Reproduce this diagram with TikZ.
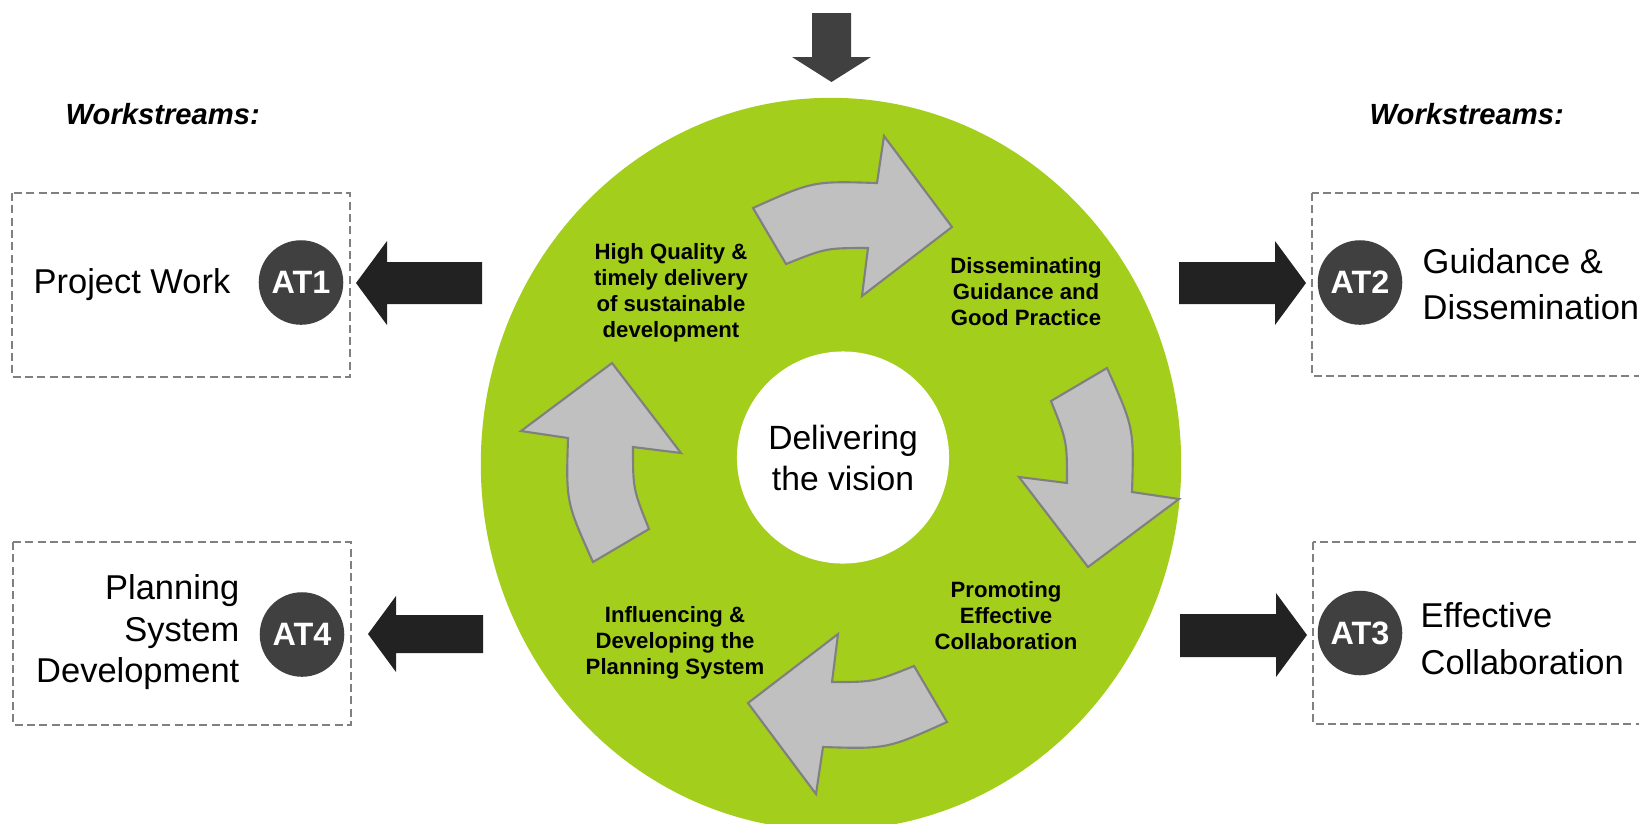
\documentclass[tikz,border=0pt]{standalone}
\usepackage{fontspec}
\setmainfont{Liberation Sans}
\usetikzlibrary{shapes.geometric}
\definecolor{ringgreen}{HTML}{A3CE1C}
\definecolor{arrowgrey}{HTML}{C0C0C0}
\definecolor{edgegrey}{HTML}{808080}
\definecolor{darkdisc}{HTML}{404040}
\definecolor{blockblack}{HTML}{222222}
\definecolor{boxgrey}{HTML}{808080}
\tikzset{
  wsbox/.style={draw=boxgrey, line width=0.45pt, dash pattern=on 2.3pt off 1.2pt},
  atdisc/.style={circle, fill=darkdisc, minimum size=0.845cm, inner sep=0pt, text=white, font=\fontsize{9.2}{11}\selectfont\bfseries},
  cycarrow/.style={fill=arrowgrey, draw=edgegrey, line width=0.6pt, line join=miter},
  blockarrow/.style={fill=blockblack},
  cyclabel/.style={font=\fontsize{6.3}{7.4}\selectfont\bfseries, align=center, inner sep=0pt},
  biglabel/.style={font=\fontsize{9.8}{11.8}\selectfont, inner sep=0pt},
  wslabel/.style={font=\fontsize{8.3}{10}\selectfont\bfseries\itshape, inner sep=0pt, anchor=base west}
}
\begin{document}
\begin{tikzpicture}[x=0.01cm,y=-0.01cm]
\useasboundingbox (0,0) rectangle (1639,823);
\clip (0,0) rectangle (1639,823);

% ring
\node[ellipse, fill=ringgreen, minimum width=7cm, minimum height=7.32cm, inner sep=0pt] (ring) at (831,464) {};
\node[circle, fill=white, minimum size=2.12cm, inner sep=0pt, font=\fontsize{9.56}{11.66}\selectfont, align=center] (core) at (843,457.5) {Delivering\\the vision};

% cycle arrows
\foreach \ang in {0,-90,-180,-270}{
  \begin{scope}[shift={(850,465)}, rotate=\ang]
    \draw[cycarrow] (-97,-257) .. controls (-37,-284) .. (27,-282) -- (34,-329) -- (102,-238) -- (12,-169) -- (18,-217) .. controls (-24,-217) .. (-64,-201) -- cycle;
  \end{scope}
}

% cycle labels
\node[cyclabel] (quality) at (671,293) {High Quality \&\\timely delivery\\of sustainable\\development};
\node[cyclabel] (dissem) at (1026,292) {Disseminating\\Guidance and\\Good Practice};
\node[cyclabel] (promo) at (1006,616) {Promoting\\Effective\\Collaboration};
\node[cyclabel] (influ) at (675,643) {Influencing \&\\Developing the\\Planning System};

% top arrow
\fill[darkdisc] (812,13) -- (851,13) -- (851,57) -- (871,57) -- (831.5,82) -- (792,57) -- (812,57) -- cycle;

% headings
\node[wslabel] (wsl) at (65,124) {Workstreams:};
\node[wslabel] (wsr) at (1369,124) {Workstreams:};

% dashed boxes
\draw[wsbox] (12,193) rectangle (350,377);
\draw[wsbox] (13,542) rectangle (351,725);
\draw[wsbox] (1312,193) rectangle (1680,376);
\draw[wsbox] (1313,542) rectangle (1680,724);

% AT discs
\node[atdisc] (at1) at (301,282.5) {AT1};
\node[atdisc] (at2) at (1360,282.5) {AT2};
\node[atdisc] (at3) at (1360,633) {AT3};
\node[atdisc] (at4) at (302,634.5) {AT4};

% box texts
\node[biglabel, anchor=base east] (pw) at (231,293) {Project Work};
\node[biglabel, align=right, anchor=east] (psd) at (240,632.5) {Planning\\System\\Development};
\node[biglabel, align=left, anchor=west, font=\fontsize{9.8}{13.1}\selectfont] (gd) at (1422,284.5) {Guidance \&\\Dissemination};
\node[biglabel, align=left, anchor=west, font=\fontsize{9.8}{13.4}\selectfont] (ec) at (1420,639) {Effective\\Collaboration};

% block arrows
\fill[blockarrow] (482,262) -- (387,262) -- (387,241) -- (356,283) -- (387,325) -- (387,304) -- (482,304) -- cycle;
\fill[blockarrow] (483,615) -- (396,615) -- (396,596) -- (368,634) -- (396,672) -- (396,653) -- (483,653) -- cycle;
\fill[blockarrow] (1179,262) -- (1275,262) -- (1275,241) -- (1306,283) -- (1275,325) -- (1275,304) -- (1179,304) -- cycle;
\fill[blockarrow] (1180,614) -- (1276,614) -- (1276,593) -- (1307,635) -- (1276,677) -- (1276,657) -- (1180,657) -- cycle;
\end{tikzpicture}
\end{document}
